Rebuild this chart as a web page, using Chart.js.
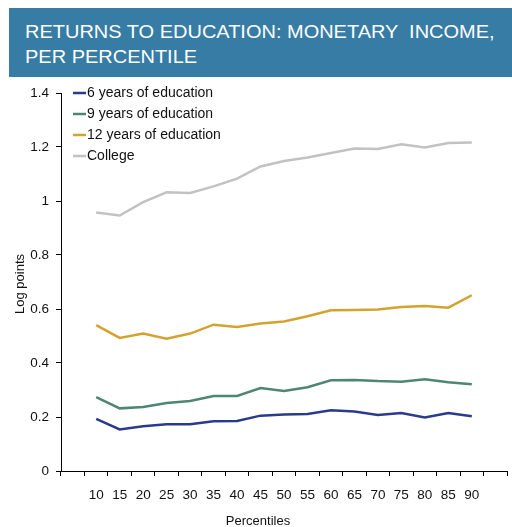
<!DOCTYPE html>
<html>
<head>
<meta charset="utf-8">
<script src="https://cdn.jsdelivr.net/npm/chart.js@4.4.1/dist/chart.umd.min.js"></script>
<style>
  html, body { margin: 0; padding: 0; background: #fff; }
  #wrap { position: relative; width: 512px; height: 527px; overflow: hidden; }
  #header {
    position: absolute; left: 9px; top: 8px; width: 503px; height: 69px;
    background: #367ca5; color: #fff; box-sizing: border-box;
    padding: 12px 0 0 16px; font: 18px "Liberation Sans", Arial, sans-serif;
    line-height: 25px; white-space: pre;
  }
  #header span { display: inline-block; transform: scaleX(1.11); transform-origin: left top; }
  #chart { position: absolute; left: 0; top: 0; }
</style>
</head>
<body>
<div id="wrap">
  <canvas id="chart" width="512" height="527"></canvas>
  <div id="header"><span>RETURNS TO EDUCATION: MONETARY  INCOME,
PER PERCENTILE</span></div>
</div>
<script>
// Percentile categories (blank slot either side of the data)
const percentiles = [10, 15, 20, 25, 30, 35, 40, 45, 50, 55, 60, 65, 70, 75, 80, 85, 90];
const yTicks = [0, 0.2, 0.4, 0.6, 0.8, 1, 1.2, 1.4];

// Returns in log points
const sixYears = [0.193, 0.154, 0.166, 0.173, 0.173, 0.184, 0.185, 0.205, 0.209, 0.211, 0.225, 0.220, 0.207, 0.215, 0.198, 0.215, 0.203];
const nineYears = [0.274, 0.232, 0.237, 0.252, 0.259, 0.278, 0.278, 0.307, 0.296, 0.310, 0.336, 0.337, 0.333, 0.331, 0.340, 0.329, 0.321];
const twelveYears = [0.540, 0.493, 0.509, 0.490, 0.509, 0.542, 0.533, 0.546, 0.554, 0.573, 0.595, 0.596, 0.598, 0.607, 0.611, 0.605, 0.651];
const college = [0.957, 0.946, 0.996, 1.032, 1.030, 1.054, 1.083, 1.128, 1.148, 1.161, 1.178, 1.194, 1.193, 1.210, 1.198, 1.215, 1.217];

const FONT = '"Liberation Sans", Arial, sans-serif';
const labels = ['', ...percentiles.map(String), ''];
const pad = arr => [null, ...arr, null];

const series = [
    { label: '6 years of education', data: sixYears, color: '#2a3a8c' },
    { label: '9 years of education', data: nineYears, color: '#4f8573' },
    { label: '12 years of education', data: twelveYears, color: '#d4a22e' },
    { label: 'College', data: college, color: '#c2c2c2' }
];

// Legend inside the plot plus the axis titles
const annotations = {
    id: 'annotations',
    afterDraw(chart) {
        const ctx = chart.ctx;
        ctx.save();
        ctx.font = '14px ' + FONT;
        ctx.textBaseline = 'middle';
        chart.data.datasets.forEach((ds, i) => {
            const y = 93 + i * 21;
            ctx.strokeStyle = ds.borderColor;
            ctx.lineWidth = 2.5;
            ctx.beginPath();
            ctx.moveTo(73, y);
            ctx.lineTo(86, y);
            ctx.stroke();
            ctx.fillStyle = '#111';
            ctx.textAlign = 'left';
            ctx.fillText(ds.label, 87, y);
        });

        ctx.font = '13px ' + FONT;
        ctx.textAlign = 'center';
        ctx.fillText('Percentiles', 258, 521);

        ctx.translate(20, 284);
        ctx.rotate(-Math.PI / 2);
        ctx.fillText('Log points', 0, 0);
        ctx.restore();
    }
};

new Chart(document.getElementById('chart'), {
    type: 'line',
    data: {
        labels: labels,
        datasets: series.map(s => ({
            label: s.label,
            data: pad(s.data),
            borderColor: s.color,
            backgroundColor: s.color,
            borderWidth: 2.5,
            pointRadius: 0,
            tension: 0,
            fill: false
        }))
    },
    options: {
        responsive: false,
        animation: false,
        layout: { padding: { top: 93, right: 5, bottom: 0, left: 0 } },
        plugins: {
            legend: { display: false },
            tooltip: { enabled: false }
        },
        scales: {
            x: {
                offset: true,
                afterFit: scale => { scale.height = 56; },
                grid: { offset: true, drawOnChartArea: false, drawTicks: true, tickLength: 5, color: '#000' },
                border: { display: true, color: '#000', width: 1 },
                ticks: { autoSkip: false, maxRotation: 0, padding: 11, color: '#111', font: { family: FONT, size: 13.5 } }
            },
            y: {
                min: 0,
                max: 1.4,
                afterFit: scale => { scale.width = 61; },
                afterBuildTicks: scale => { scale.ticks = yTicks.map(v => ({ value: v })); },
                grid: { drawOnChartArea: false, drawTicks: true, tickLength: 5, color: '#000' },
                border: { display: true, color: '#000', width: 1 },
                ticks: { padding: 7, color: '#111', font: { family: FONT, size: 13.5 }, callback: v => String(v) }
            }
        }
    },
    plugins: [annotations]
});
</script>
</body>
</html>
